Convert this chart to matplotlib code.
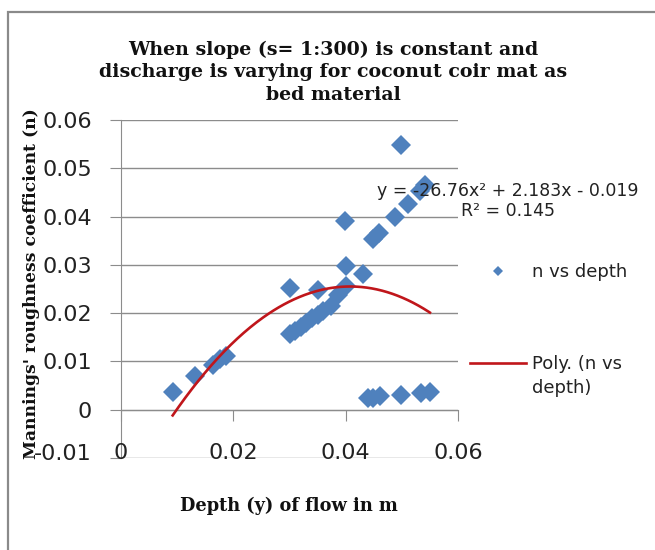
import numpy as np
import matplotlib
matplotlib.use("Agg")
import matplotlib.pyplot as plt
from matplotlib.patches import Rectangle
from matplotlib.transforms import ScaledTranslation

# ---- data ----
depth = [0.0092, 0.0132, 0.0164, 0.0176, 0.0187, 0.0301, 0.0300, 0.0310, 0.0320,
         0.0330, 0.0340, 0.0350, 0.0360, 0.0373, 0.0351, 0.0387, 0.0401, 0.0401,
         0.0399, 0.0430, 0.0448, 0.0460, 0.0488, 0.0498, 0.0511, 0.0532, 0.0541,
         0.0439, 0.0449, 0.0461, 0.0498, 0.0535, 0.0550]
n_vals = [0.0037, 0.0069, 0.0093, 0.0104, 0.0112, 0.0252, 0.0156, 0.0164, 0.0172,
          0.0180, 0.0189, 0.0197, 0.0205, 0.0214, 0.0248, 0.0238, 0.0256, 0.0298,
          0.0390, 0.0282, 0.0353, 0.0366, 0.0400, 0.0549, 0.0427, 0.0452, 0.0466,
          0.0025, 0.0025, 0.0028, 0.0031, 0.0035, 0.0036]
poly_coef = [-26.76, 2.183, -0.019]
x_ticks = [0, 0.02, 0.04, 0.06]
x_ticklabels = ["0", "0.02", "0.04", "0.06"]
y_ticks = [-0.01, 0, 0.01, 0.02, 0.03, 0.04, 0.05, 0.06]
y_ticklabels = ["-0.01", "0", "0.01", "0.02", "0.03", "0.04", "0.05", "0.06"]

title = "When slope (s= 1:300) is constant and\ndischarge is varying for coconut coir mat as\nbed material"
xlabel = "Depth (y) of flow in m"
ylabel = "Mannings' roughness coefficient (n)"
eq_text = "y = -26.76x² + 2.183x - 0.019\nR² = 0.145"
series_label = "n vs depth"
trend_label_1 = "Poly. (n vs"
trend_label_2 = "depth)"

W, H = 655, 550
fig = plt.figure(figsize=(W / 100, H / 100), dpi=100)
fig.patch.set_facecolor("white")

# outer chart border
fig.patches.append(Rectangle((8 / W, -0.1), 1.2, 1 - 12 / H + 0.1, transform=fig.transFigure,
                             fill=False, edgecolor="#8a8a8a", linewidth=1.6))

ax = fig.add_axes([121 / W, 1 - 458 / H, (458 - 121) / W, (458 - 120) / H])
ax.set_xlim(0, 0.06)
ax.set_ylim(-0.01, 0.06)

grid_c = "#8c8c8c"
txt_c = "#222222"
for s in ["top", "right"]:
    ax.spines[s].set_visible(False)
ax.spines["left"].set_color(grid_c)
ax.spines["bottom"].set_color(grid_c)
ax.spines["bottom"].set_position(("data", 0))

ax.set_yticks(y_ticks)
ax.set_yticklabels(y_ticklabels)
ax.yaxis.grid(True, color=grid_c, linewidth=1.0)
ax.set_axisbelow(True)
ax.tick_params(axis="y", direction="out", length=8, color=grid_c, pad=13,
               labelsize=16, labelcolor=txt_c)
# lowest label sits a little higher in the reference
lowlab = ax.yaxis.get_major_ticks()[0].label1
lowlab.set_transform(lowlab.get_transform() + ScaledTranslation(0, 6 / 100, fig.dpi_scale_trans))
ax.set_xticks(x_ticks)
ax.set_xticklabels([])
ax.tick_params(axis="x", direction="out", length=8, color=grid_c)
for xv, lab in zip(x_ticks, x_ticklabels):
    ax.text(xv, -0.0090, lab, ha="center", va="center", fontsize=16, color=txt_c,
            clip_on=False)

# data
pts, = ax.plot(depth, n_vals, linestyle="none", marker="D", markersize=10,
               color="#4F81BD", markeredgewidth=0, label=series_label, zorder=3)
xs = np.linspace(min(depth), max(depth), 200)
trend, = ax.plot(xs, np.polyval(poly_coef, xs), color="#C0161B", linewidth=1.9,
                 label=trend_label_1, zorder=4)

ax.text(508 / W, 1 - 201 / H, eq_text, transform=fig.transFigure, ha="center",
        va="center", fontsize=12.5, color=txt_c, linespacing=1.2, zorder=5)

serif = ["DejaVu Serif"]
fig.text(333 / W, 1 - 72 / H, title, ha="center", va="center", fontsize=13.7,
         fontweight="bold", family=serif, linespacing=1.33, color="#111111")
fig.text(289 / W, 1 - 506 / H, xlabel, ha="center", va="center", fontsize=12.8,
         fontweight="bold", family=serif, color="#111111")
fig.text(32 / W, 1 - 284 / H, ylabel, ha="center", va="center", rotation=90,
         fontsize=12.3, fontweight="bold", family=serif, color="#111111")

leg = ax.legend(handles=[pts, trend], loc="upper left",
                bbox_to_anchor=(470 / W, 1 - 263 / H), bbox_transform=fig.transFigure,
                frameon=False, fontsize=13, handlelength=3.1, handletextpad=0.35,
                labelspacing=4.1, markerscale=0.55, borderpad=0, borderaxespad=0)
leg.set_zorder(6)
for t in leg.get_texts():
    t.set_color(txt_c)
ax.annotate(trend_label_2, xy=(0, 0), xycoords=leg.get_texts()[1],
            xytext=(0, -6), textcoords="offset pixels", ha="left", va="top",
            fontsize=13, color=txt_c, annotation_clip=False, zorder=10)

fig.savefig("out.png", dpi=100)
